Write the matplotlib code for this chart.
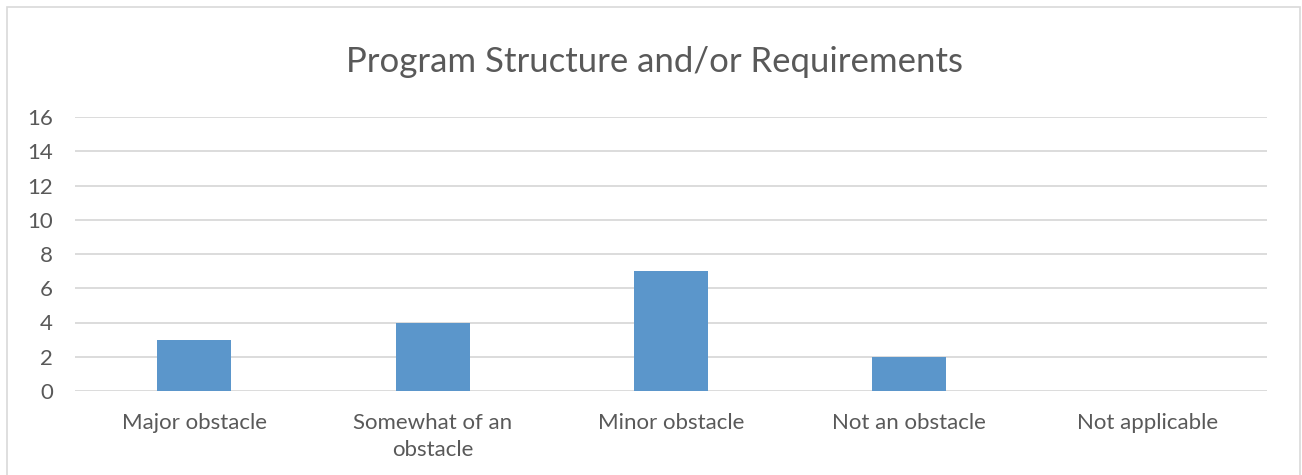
import matplotlib.pyplot as plt
from matplotlib.patches import Rectangle

categories = ["Major obstacle", "Somewhat of an\nobstacle", "Minor obstacle",
              "Not an obstacle", "Not applicable"]
counts = [3, 4, 7, 2, 0]
yticks = [0, 2, 4, 6, 8, 10, 12, 14, 16]

plt.rcParams['font.family'] = ['Lato', 'DejaVu Sans']
text_color = "#595959"
grid_color = "#D9D9D9"
bar_color = "#5B96CB"

fig = plt.figure(figsize=(13.02, 4.75), dpi=100)
# chart border
fig.patches.append(Rectangle((7 / 1302, -0.01), 1293 / 1302, 1 - 7 / 475 + 0.01,
                             transform=fig.transFigure, fill=False,
                             edgecolor=grid_color, linewidth=1.2))

ax = fig.add_axes([75 / 1302, 1 - 391 / 475, 1192 / 1302, 274 / 475])
x = list(range(len(categories)))
ax.bar(x, counts, width=0.31, color=bar_color, zorder=3)

ax.set_xlim(-0.5, len(categories) - 0.5)
ax.set_ylim(0, 16)
ax.set_yticks(yticks)
ax.set_xticks(x)
ax.set_xticklabels(categories)
ax.grid(axis='y', color=grid_color, linewidth=1.3, zorder=0)
for s in ax.spines.values():
    s.set_visible(False)
ax.tick_params(length=0, labelsize=16, colors=text_color)
ax.tick_params(axis='x', pad=16)
ax.tick_params(axis='y', pad=16)
for lbl in ax.get_xticklabels():
    lbl.set_linespacing(1.45)

fig.text(654 / 1302, 1 - 62 / 475, "Program Structure and/or Requirements",
         ha='center', va='center', fontsize=25, color=text_color)

fig.savefig("out.png", dpi=100)
